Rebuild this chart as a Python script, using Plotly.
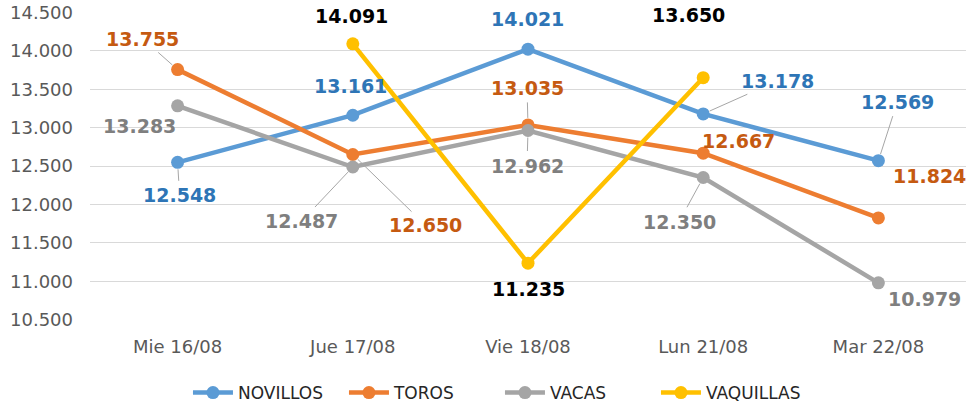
import plotly.graph_objects as go

categories = ["Mie 16/08", "Jue 17/08", "Vie 18/08", "Lun 21/08", "Mar 22/08"]
novillos = [12548, 13161, 14021, 13178, 12569]
toros = [13755, 12650, 13035, 12667, 11824]
vacas = [13283, 12487, 12962, 12350, 10979]
vaquillas = [None, 14091, 11235, 13650, None]

series = [
    ("NOVILLOS", novillos, "#5B9BD5", "#2E75B6"),
    ("TOROS", toros, "#ED7D31", "#C55A11"),
    ("VACAS", vacas, "#A5A5A5", "#7F7F7F"),
    ("VAQUILLAS", vaquillas, "#FFC000", "#000000"),
]

# label offsets in pixels (dx, dy, leader line?)
label_pos = {
    "NOVILLOS": [(2, 33, True), (-2, -29, False), (-1, -30, False), (74, -33, True), (19, -59, True)],
    "TOROS": [(-35, -31, True), (73, 71, True), (-1, -37, True), (35, -12, False), (51, -42, False)],
    "VACAS": [(-38, 20, False), (-51, 54, True), (-1, 35, True), (-24, 44, True), (46, 16, False)],
    "VAQUILLAS": [None, (-1, -28, False), (0, 26, False), (-15, -63, False), None],
}

def fmt(v):
    return f"{v:,}".replace(",", ".")

fig = go.Figure()
for name, vals, color, lab_color in series:
    fig.add_trace(go.Scatter(
        x=categories, y=vals, name=name, mode="lines+markers",
        line=dict(color=color, width=4.5),
        marker=dict(color=color, size=13),
        connectgaps=False,
    ))

annotations = []
for name, vals, color, lab_color in series:
    for cat, v, pos in zip(categories, vals, label_pos[name]):
        if v is None or pos is None:
            continue
        dx, dy, leader = pos
        annotations.append(dict(
            x=cat, y=v, xref="x", yref="y", text=fmt(v),
            showarrow=True, ax=dx, ay=dy, arrowhead=0, arrowwidth=1,
            arrowcolor="#A6A6A6" if leader else "rgba(0,0,0,0)",
            standoff=7, startstandoff=2,
            font=dict(family="DejaVu Sans", size=19, color=lab_color, weight="bold"),
        ))

fig.update_layout(
    width=976, height=407,
    margin=dict(l=90, r=10, t=12, b=87, autoexpand=False),
    paper_bgcolor="white", plot_bgcolor="white",
    separators=",.",
    showlegend=True,
    legend=dict(
        orientation="h", x=0.468, xanchor="center", y=-0.237, yanchor="middle",
        font=dict(family="DejaVu Sans", size=17, color="#262626"),
        itemwidth=40, entrywidth=101,
    ),
    annotations=annotations,
    xaxis=dict(
        type="category", range=[-0.5, 4.5], showgrid=False, zeroline=False,
        showline=False, ticks="", automargin=False,
        tickfont=dict(family="DejaVu Sans", size=18, color="#595959"),
        ticklabelstandoff=14,
    ),
    yaxis=dict(
        range=[10495, 14505], tick0=10500, dtick=500, tickformat=",.0f",
        showgrid=True, gridcolor="#D9D9D9", gridwidth=1.3, zeroline=False,
        showline=False, ticks="", automargin=False,
        tickfont=dict(family="DejaVu Sans", size=18, color="#595959"),
        ticklabelstandoff=16,
    ),
)

fig.write_html(
    "out.html",
    config={"displayModeBar": False},
    post_script="document.body.style.margin='0';document.body.style.padding='0';document.body.style.overflow='hidden';",
)
